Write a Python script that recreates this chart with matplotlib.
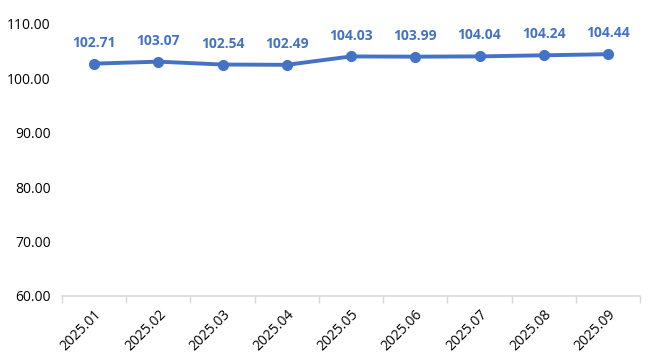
import matplotlib
matplotlib.use("Agg")
import matplotlib.pyplot as plt
import numpy as np

plt.rcParams["font.family"] = ["Open Sans", "DejaVu Sans"]

months = ["2025.01", "2025.02", "2025.03", "2025.04", "2025.05",
          "2025.06", "2025.07", "2025.08", "2025.09"]
values = [102.71, 103.07, 102.54, 102.49, 104.03, 103.99, 104.04, 104.24, 104.44]
y_ticks = [60, 70, 80, 90, 100, 110]

line_color = "#4472C4"

fig = plt.figure(figsize=(6.54, 3.63), dpi=100)
ax = fig.add_axes([0.0948, 0.1846, 0.884, 0.7494])

x = np.arange(len(months))
ax.plot(x, values, color=line_color, linewidth=2.8, marker="o", markersize=7,
        solid_capstyle="round", zorder=3)

for xi, v in zip(x, values):
    ax.annotate(f"{v:.2f}", (xi, v), xytext=(0, 10), textcoords="offset points",
                ha="center", va="bottom", fontsize=10, fontweight="bold", color=line_color)

ax.set_xlim(-0.5, len(months) - 0.5)
ax.set_ylim(60, 110)
ax.set_yticks(y_ticks)
ax.set_yticklabels([f"{t:.2f}" for t in y_ticks], fontsize=10)
ax.tick_params(axis="y", length=0, pad=8)

ax.set_xticks(x)
ax.set_xticklabels(months, rotation=45, ha="right", rotation_mode="anchor", fontsize=10)
ax.tick_params(axis="x", which="major", length=0, pad=8)
ax.set_xticks(np.arange(len(months) + 1) - 0.5, minor=True)
ax.tick_params(axis="x", which="minor", length=5, color="#d9d9d9", width=1)

for side in ["top", "right", "left"]:
    ax.spines[side].set_visible(False)
ax.spines["bottom"].set_color("#d9d9d9")
ax.spines["bottom"].set_linewidth(1.2)

fig.savefig("out.png", dpi=100)
